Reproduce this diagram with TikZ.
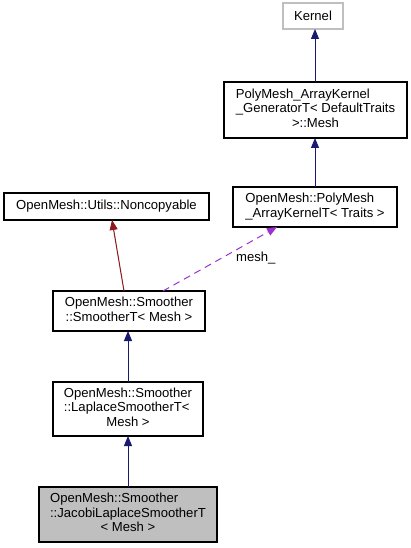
\documentclass[tikz,border=0pt]{standalone}
\usepackage{fontspec}
\setmainfont{Liberation Sans}
\usetikzlibrary{arrows.meta}
\definecolor{edgeblue}{HTML}{191970}
\definecolor{edgered}{HTML}{8B1A1A}
\definecolor{edgepurple}{HTML}{9A32CD}
\definecolor{boxgray}{HTML}{BFBFBF}
\newcommand{\lines}[1]{\begin{tabular}{@{}l@{}}#1\end{tabular}}
\newcommand{\lastc}[1]{\multicolumn{1}{@{}c@{}}{#1}}
\tikzset{
  lblfont/.style={font=\fontsize{13.1}{14.5}\selectfont},
  cls/.style={draw=black, line width=1.1pt, fill=white, inner sep=0pt, outer sep=0pt, lblfont},
  extcls/.style={cls, draw=boxgray},
  curcls/.style={cls, fill=boxgray},
  inherit/.style={line width=1pt, -{Triangle[length=10pt,width=8pt]}},
  usage/.style={line width=1pt, dash pattern=on 7pt off 5pt, draw=edgepurple,
    -{Triangle[length=10pt,width=8pt,fill=edgepurple]}},
}
\begin{document}
\begin{tikzpicture}[x=1pt,y=-1pt]
\useasboundingbox (0,0) rectangle (411,548);
% nodes (centers from pixel boxes)
\node[extcls, minimum width=60pt, minimum height=26pt] (kernel) at (313,16) {Kernel};
\node[cls, minimum width=183pt, minimum height=56pt] (gen) at (315.5,110)
  {\lines{PolyMesh\_ArrayKernel\\\_GeneratorT< DefaultTraits\\\lastc{>::Mesh}}};
\node[cls, minimum width=164pt, minimum height=40pt] (akt) at (315,207)
  {\lines{OpenMesh::PolyMesh\\\_ArrayKernelT< Traits >}};
\node[cls, minimum width=205pt, minimum height=27pt] (noncopy) at (106.5,206.5)
  {OpenMesh::Utils::Noncopyable};
\node[cls, minimum width=152pt, minimum height=40pt] (smoother) at (129,311)
  {\lines{OpenMesh::Smoother\\\lastc{::SmootherT< Mesh >}}};
\node[cls, minimum width=150pt, minimum height=54pt] (laplace) at (128,409)
  {\lines{OpenMesh::Smoother\\::LaplaceSmootherT<\\\lastc{Mesh >}}};
\node[curcls, minimum width=178pt, minimum height=55pt] (jacobi) at (128,514.5)
  {\lines{OpenMesh::Smoother\\::JacobiLaplaceSmootherT\\\lastc{< Mesh >}}};
\node[lblfont, anchor=west, inner sep=0pt] (meshlbl) at (236,258) {mesh\_};
% edges
\draw[inherit, draw=edgeblue, fill=edgeblue] (gen.north -| kernel.south) ++(2,0) coordinate (g1) -- (g1 |- kernel.south);
\draw[inherit, draw=edgeblue, fill=edgeblue] (akt.north) -- (akt.north |- gen.south);
\draw[inherit, draw=edgered, fill=edgered] ([xshift=-5pt]smoother.north) -- ([xshift=5.5pt]noncopy.south);
\draw[usage] ([xshift=34pt]smoother.north) -- ([xshift=-38pt]akt.south);
\draw[inherit, draw=edgeblue, fill=edgeblue] (laplace.north) -- (laplace.north |- smoother.south);
\draw[inherit, draw=edgeblue, fill=edgeblue] (jacobi.north) -- (jacobi.north |- laplace.south);
\end{tikzpicture}
\end{document}
